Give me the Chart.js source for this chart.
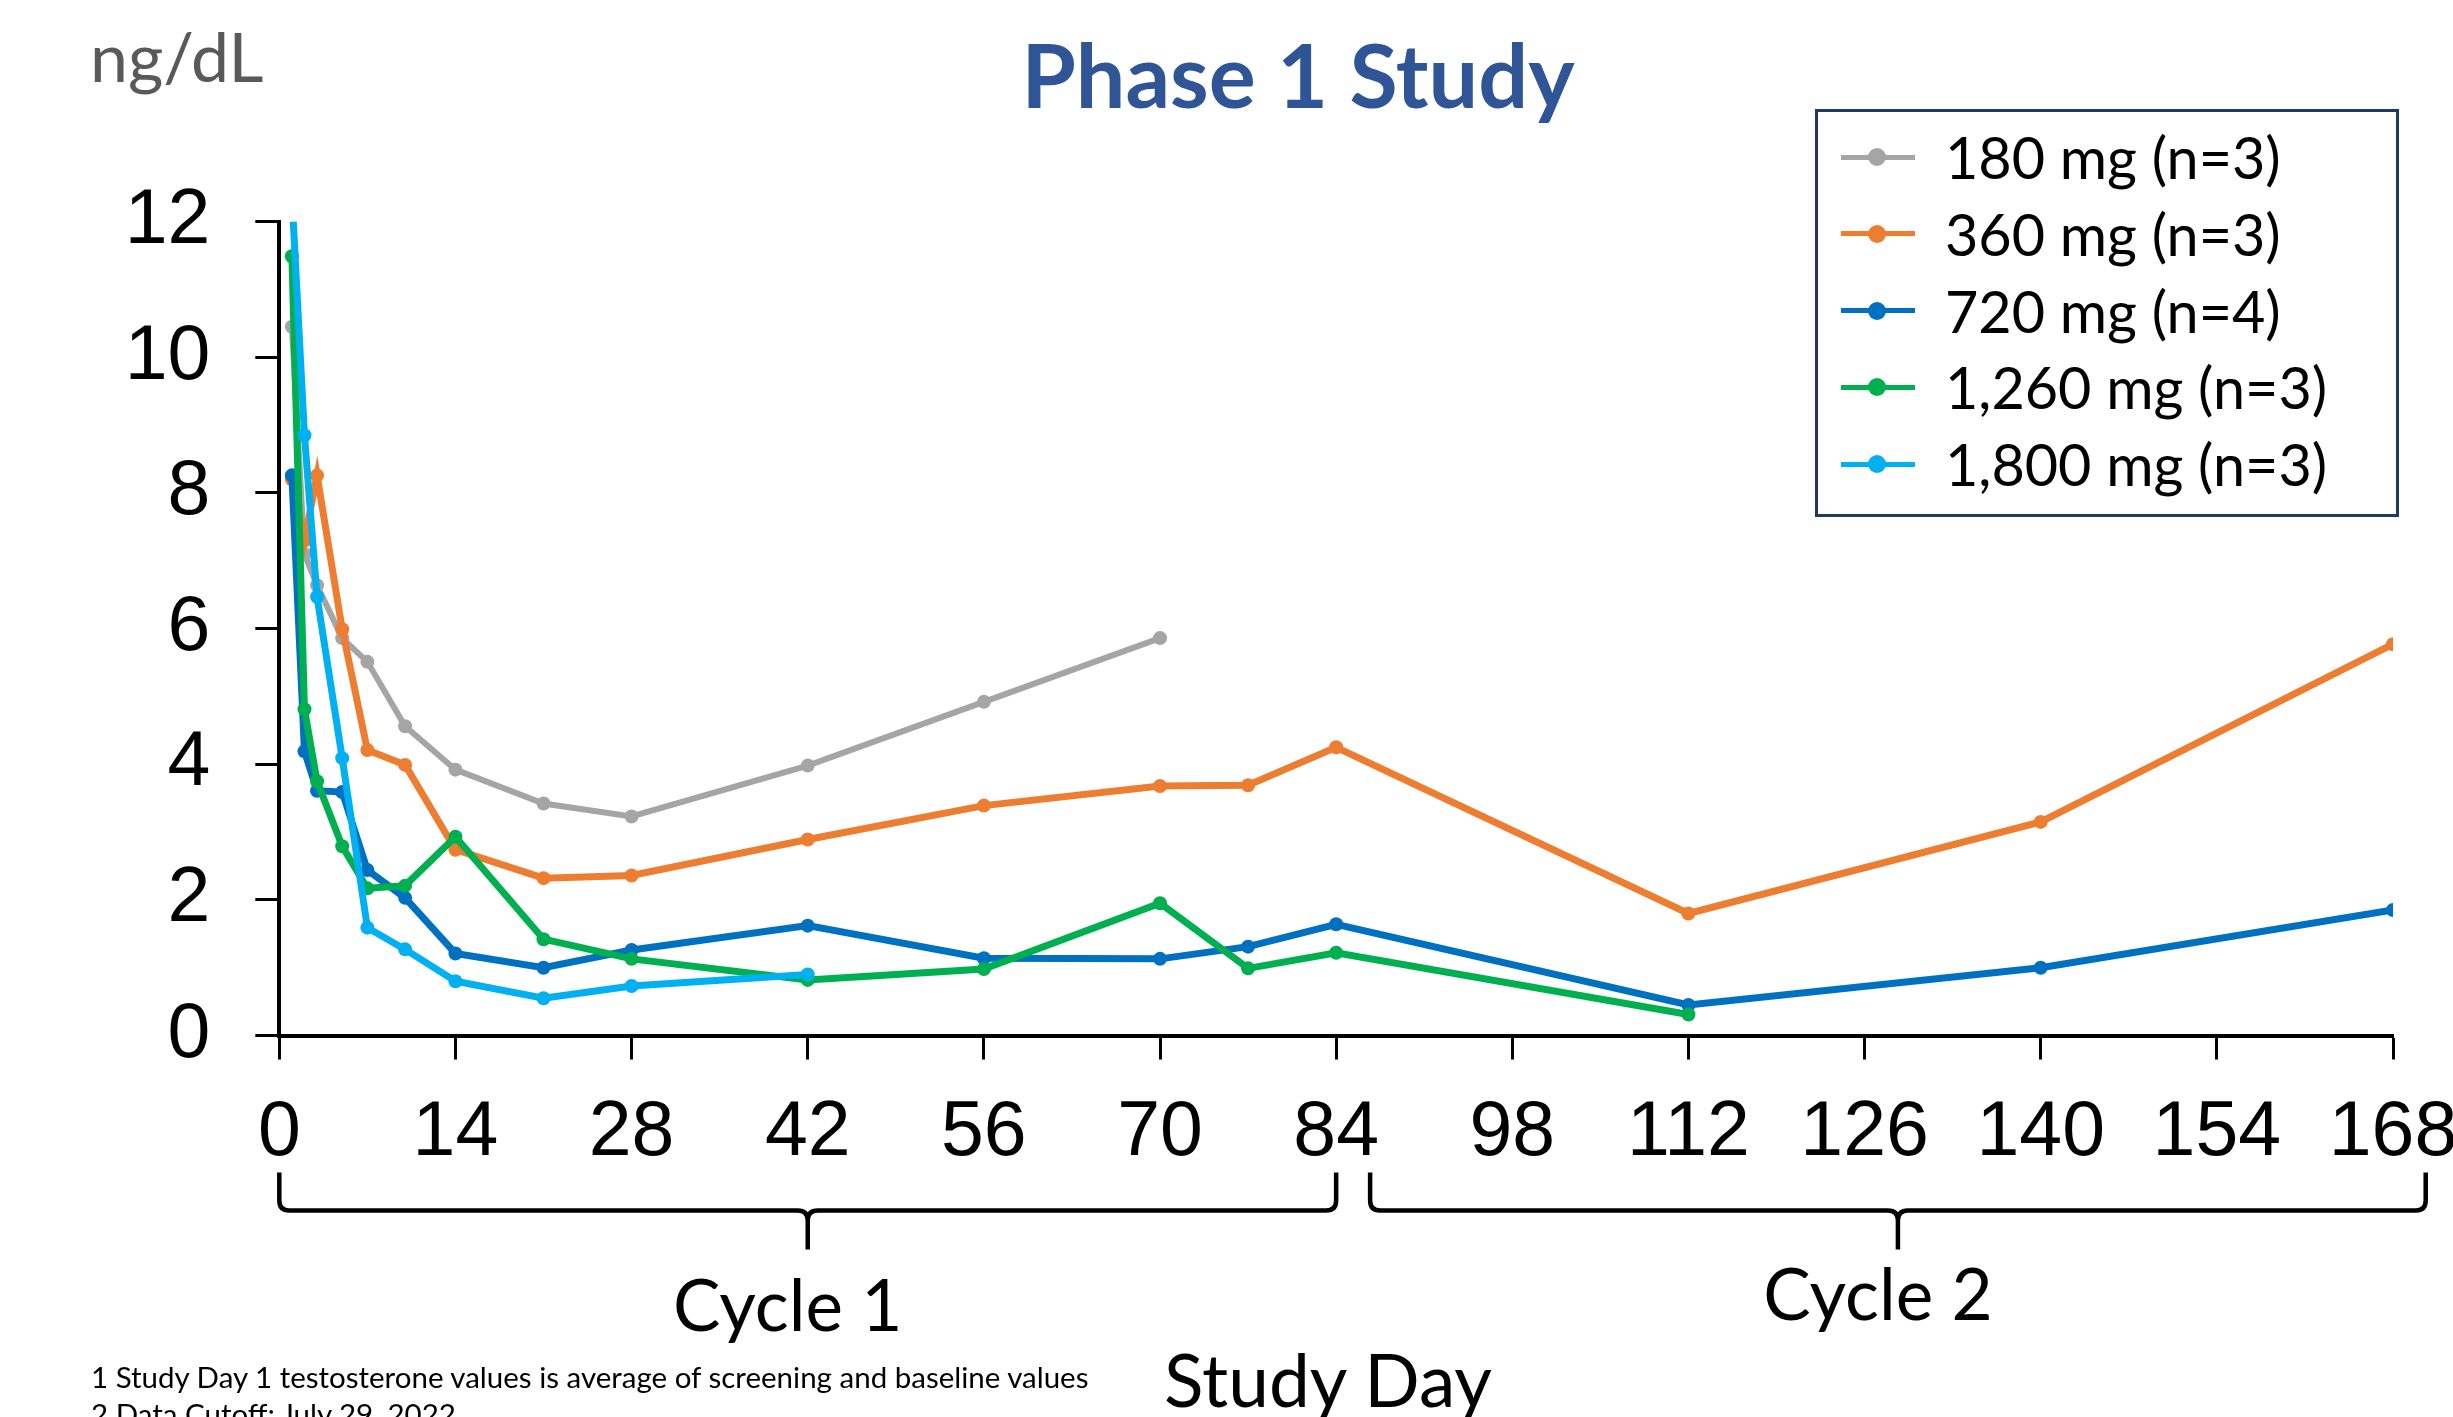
<!DOCTYPE html>
<html>
<head>
<meta charset="utf-8">
<title>Testosterone - Phase 1 Study</title>
<script src="https://cdn.jsdelivr.net/npm/chart.js@4.4.1/dist/chart.umd.min.js"></script>
<style>
  html, body { margin: 0; padding: 0; background: #fff; overflow: hidden; }
  body { width: 2453px; height: 1417px; position: relative; }
  #chart { position: absolute; left: 0; top: 0; }
  .txt {
    position: absolute;
    font-family: Lato, "Open Sans", sans-serif;
    line-height: 1;
    white-space: nowrap;
    color: #000;
  }
  #unit { left: 90px; top: 22px; font-size: 68px; color: #595959; }
  #title { left: 1298px; top: 30px; font-size: 88px; font-weight: 700; color: #2F5597; transform: translateX(-50%); }
  .cycle { font-size: 71px; transform: translateX(-50%); }
  #cycle1 { top: 1268px; }
  #cycle2 { top: 1257px; }
  #xTitle { left: 1328px; top: 1343px; font-size: 73px; transform: translateX(-50%); }
  .foot { left: 91px; font-size: 29.5px; }
  #foot1 { top: 1362px; }
  #foot2 { top: 1399px; }

  #legend {
    position: absolute;
    left: 1815px; top: 109px;
    width: 584px; height: 408px;
    box-sizing: border-box;
    border: 3px solid #203864;
  }
  .row { position: absolute; left: 0; height: 60px; width: 100%; }
  .row .ln { position: absolute; left: 23px; top: 27.5px; width: 74px; height: 5px; }
  .row .dot { position: absolute; left: 50px; top: 21px; width: 18px; height: 18px; border-radius: 50%; }
  .row .lb { position: absolute; left: 127px; top: 0; height: 60px; line-height: 60px;
             font-family: Lato, "Open Sans", sans-serif; font-size: 57.5px; color: #000; white-space: nowrap; }
</style>
</head>
<body>
<canvas id="chart" width="2560" height="1417"></canvas>

<div class="txt" id="unit">ng/dL</div>
<div class="txt" id="title">Phase 1 Study</div>
<div class="txt cycle" id="cycle1">Cycle 1</div>
<div class="txt cycle" id="cycle2">Cycle 2</div>
<div class="txt" id="xTitle">Study Day</div>
<div class="txt foot" id="foot1">1 Study Day 1 testosterone values is average of screening and baseline values</div>
<div class="txt foot" id="foot2">2 Data Cutoff: July 29, 2022</div>
<div id="legend"></div>

<script>
// study days where testosterone was sampled
const days = [1, 2, 3, 5, 7, 10, 14, 21, 28, 42, 56, 70, 77, 84, 112, 140, 168];

// mean testosterone (ng/dL) per dose cohort, in the order of days
const dose180 = [10.45, 7.1, 6.64, 5.86, 5.51, 4.56, 3.92, 3.42, 3.23, 3.98, 4.92, 5.86];
const dose360 = [8.2, 7.3, 8.26, 5.99, 4.21, 3.99, 2.74, 2.32, 2.36, 2.89, 3.39, 3.68, 3.69, 4.25, 1.8, 3.15, 5.77];
const dose720 = [8.26, 4.19, 3.61, 3.59, 2.44, 2.03, 1.21, 1.0, 1.26, 1.62, 1.14, 1.13, 1.31, 1.64, 0.45, 1.0, 1.85];
const dose1260 = [11.49, 4.81, 3.75, 2.79, 2.17, 2.21, 2.93, 1.42, 1.13, 0.82, 0.98, 1.95, 0.99, 1.22, 0.31];
const dose1800 = [12.4, 8.85, 6.47, 4.09, 1.59, 1.27, 0.8, 0.55, 0.73, 0.9];

const seriesLabels = ["180 mg (n=3)", "360 mg (n=3)", "720 mg (n=4)", "1,260 mg (n=3)", "1,800 mg (n=3)"];
const seriesColors = ["#A5A5A5", "#ED7D31", "#0070C0", "#00B050", "#00B0F0"];

// day ranges covered by each treatment cycle brace
const cycleSpans = [[0, 84], [86.7, 170.6]];

const tickFont = { family: "'Liberation Sans', Arial, sans-serif", size: 77 };

function toPoints(values) {
  return values.map((v, i) => ({ x: days[i], y: v }));
}

const allSeries = [dose180, dose360, dose720, dose1260, dose1800];

const datasets = allSeries.map((vals, i) => ({
  label: seriesLabels[i],
  data: toPoints(vals),
  borderColor: seriesColors[i],
  backgroundColor: seriesColors[i],
  pointBackgroundColor: seriesColors[i],
  pointBorderWidth: 0,
  pointRadius: 7,
  borderWidth: i === 0 ? 6 : 7,
  tension: 0,
  order: allSeries.length - i,
  clip: i === 4 ? 0 : undefined,
}));

// draws the two curly braces under the x axis and places the cycle captions
const bracePlugin = {
  id: "cycleBraces",
  afterDraw(chart) {
    const { ctx, chartArea } = chart;
    const x = chart.scales.x;
    const top = chartArea.bottom + 137;
    const mid = chartArea.bottom + 175;
    const tip = chartArea.bottom + 214;
    const r = 10;
    ctx.save();
    ctx.strokeStyle = "#000";
    ctx.lineWidth = 4.5;
    ctx.lineJoin = "round";
    cycleSpans.forEach(([a, b], i) => {
      const x1 = x.getPixelForValue(a);
      const x2 = x.getPixelForValue(b);
      const xc = (x1 + x2) / 2;
      ctx.beginPath();
      ctx.moveTo(x1, top);
      ctx.lineTo(x1, mid - r);
      ctx.quadraticCurveTo(x1, mid, x1 + r, mid);
      ctx.lineTo(xc - r, mid);
      ctx.quadraticCurveTo(xc, mid, xc, mid + r);
      ctx.lineTo(xc, tip);
      ctx.moveTo(xc, mid + r);
      ctx.quadraticCurveTo(xc, mid, xc + r, mid);
      ctx.lineTo(x2 - r, mid);
      ctx.quadraticCurveTo(x2, mid, x2, mid - r);
      ctx.lineTo(x2, top);
      ctx.stroke();
      document.getElementById("cycle" + (i + 1)).style.left = (xc - 20) + "px";
    });
    ctx.restore();
  },
};

// html legend built from the datasets
const htmlLegend = {
  id: "htmlLegend",
  afterUpdate(chart) {
    const box = document.getElementById("legend");
    box.innerHTML = "";
    chart.data.datasets.forEach((ds, i) => {
      const row = document.createElement("div");
      row.className = "row";
      row.style.top = (15 + i * 76.8) + "px";
      const ln = document.createElement("div");
      ln.className = "ln";
      ln.style.background = ds.borderColor;
      const dot = document.createElement("div");
      dot.className = "dot";
      dot.style.background = ds.borderColor;
      const lb = document.createElement("div");
      lb.className = "lb";
      lb.textContent = ds.label;
      row.append(ln, dot, lb);
      box.appendChild(row);
    });
  },
};

new Chart(document.getElementById("chart"), {
  type: "line",
  data: { datasets },
  plugins: [bracePlugin, htmlLegend],
  options: {
    responsive: false,
    devicePixelRatio: 1,
    animation: false,
    layout: { padding: { left: 0, top: 221.7, right: 167, bottom: 0 } },
    plugins: {
      legend: { display: false },
      tooltip: { enabled: false },
    },
    scales: {
      x: {
        type: "linear",
        min: 0,
        max: 168,
        afterFit: (s) => { s.height = 381.5; },
        ticks: { stepSize: 14, autoSkip: false, maxRotation: 0, padding: 28, color: "#000", font: tickFont },
        grid: { drawOnChartArea: false, tickLength: 24, tickWidth: 3, tickColor: "#000" },
        border: { color: "#000", width: 4 },
      },
      y: {
        min: 0,
        max: 12,
        afterFit: (s) => { s.width = 279.3; },
        ticks: { stepSize: 2, padding: 45, color: "#000", font: tickFont },
        grid: { drawOnChartArea: false, tickLength: 24, tickWidth: 3, tickColor: "#000" },
        border: { color: "#000", width: 4 },
      },
    },
  },
});
</script>
</body>
</html>
